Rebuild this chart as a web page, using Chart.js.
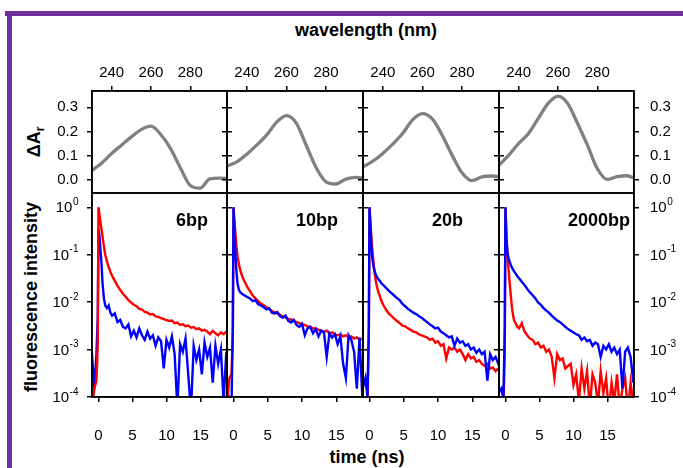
<!DOCTYPE html>
<html><head><meta charset="utf-8">
<script src="https://cdn.jsdelivr.net/npm/chart.js@4.4.1/dist/chart.umd.min.js"></script>
<style>
html,body{margin:0;padding:0;background:#fff;width:683px;height:468px;overflow:hidden;position:relative;font-family:"Liberation Sans",Arial,sans-serif;}
canvas{position:absolute;}
.lbl{position:absolute;font-weight:bold;font-size:18px;color:#000;white-space:nowrap;line-height:1;}
.ctr{transform:translate(-50%,-50%);}
.rot{transform:translate(-50%,-50%) rotate(-90deg);}
.lbl sub{font-size:12px;vertical-align:-4px;line-height:0;}
#frameTop{position:absolute;left:5px;top:11px;width:678px;height:5px;background:#7030a0;}
#frameLeft{position:absolute;left:7px;top:11px;width:5px;height:457px;background:#7030a0;}
</style></head><body>
<div id="frameTop"></div><div id="frameLeft"></div>
<div class="lbl ctr" style="left:366px;top:30px;">wavelength (nm)</div>
<div class="lbl ctr" style="left:367px;top:457px;">time (ns)</div>
<div class="lbl rot" style="left:31px;top:297px;">fluorescence intensity</div>
<div class="lbl rot" style="left:34px;top:142px;">ΔA<sub>r</sub></div>
<script>
// ---------- data ----------
const wavelength = [230,235,240,245,250,255,260,265,270,275,280,285,290,295,300];
const spec6bp    = [0.040,0.071,0.110,0.144,0.178,0.208,0.222,0.188,0.130,0.050,-0.022,-0.033,0.005,0.008,0.007];
const spec10bp   = [0.058,0.075,0.107,0.144,0.185,0.238,0.266,0.235,0.144,0.052,-0.007,-0.016,0.004,0.011,0.008];
const spec20b    = [0.055,0.078,0.110,0.148,0.192,0.248,0.274,0.252,0.185,0.103,0.030,-0.002,0.013,0.017,0.012];
const spec2000bp = [0.062,0.103,0.151,0.192,0.254,0.316,0.346,0.315,0.233,0.144,0.048,0.003,0.014,0.018,0.004];

const time = [-1,-0.6,-0.3,-0.1,0,0.15,0.3,0.45,0.6,0.8,1.0,1.25,1.5,1.75,2.0,
  2.4,2.8,3.2,3.6,4.0,4.4,4.8,5.2,5.6,6.0,6.4,6.8,7.2,7.6,8.0,8.4,8.8,9.2,9.6,10.0,
  10.4,10.8,11.2,11.6,12.0,12.4,12.8,13.2,13.6,14.0,14.4,14.8,15.2,15.6,16.0,16.4,16.8,
  17.2,17.6,18.0,18.4,18.8,19.0];

const red6bp = [5e-5,1.5e-4,2.2e-4,1.2e-3,1.0,0.70,0.48,0.34,0.24,0.15,
  0.10,0.072,0.055,0.044,0.036,0.028,0.022,0.018,0.015,0.013,
  0.011,0.0098,0.0088,0.0082,0.0072,0.0070,0.0062,0.0060,0.0055,0.0056,
  0.0050,0.0049,0.0046,0.0044,0.0042,0.0040,0.0041,0.0036,0.0037,0.0033,
  0.0034,0.0031,0.0032,0.0029,0.0030,0.0027,0.0028,0.0025,0.0026,0.0024,
  0.0021,0.0025,0.0022,0.0020,0.0023,0.0021,0.0024,0.0022];
const blue6bp = [1.0e-3,1.5e-4,8e-4,5e-3,0.35,0.25,0.12,0.065,0.025,0.012,
  0.0085,0.0075,0.0085,0.0060,0.0052,0.0058,0.0038,0.0042,0.0030,0.0028,
  0.0034,0.0019,0.0025,0.0018,0.0028,0.0020,0.0016,0.0024,0.0017,0.0020,
  0.0012,0.0018,0.0015,0.0004,0.0016,0.0011,0.0019,0.0008,0.00006,0.0013,
  0.0009,0.0017,0.0003,0.00005,0.0012,0.0006,0.0010,0.0003,0.0014,0.0007,
  0.0011,0.0002,0.0012,0.0005,0.0010,0.00008,0.0009,0.0002];
const red10bp = [6e-5,2.5e-4,3e-4,2e-3,1.0,0.5,0.26,0.14,0.09,0.062,
  0.046,0.036,0.029,0.025,0.021,0.017,0.0138,0.0120,0.0105,0.0094,
  0.0086,0.0078,0.0072,0.0065,0.0062,0.0057,0.0054,0.0050,0.0048,0.0044,
  0.0043,0.0040,0.0038,0.0036,0.0034,0.0033,0.0031,0.0030,0.0028,0.0028,
  0.0026,0.0025,0.0024,0.0025,0.0022,0.0023,0.0021,0.0020,0.0021,0.0019,
  0.0020,0.0018,0.0019,0.0017,0.0018,0.0016,0.0017,0.0016];
const blue10bp = [5e-5,9e-5,6e-5,3e-3,1.0,0.30,0.09,0.040,0.024,0.018,
  0.016,0.0150,0.0142,0.0135,0.0128,0.0120,0.0105,0.0110,0.0090,0.0085,
  0.0078,0.0070,0.0074,0.0060,0.0058,0.0062,0.0050,0.0047,0.0052,0.0040,
  0.0037,0.0042,0.0033,0.0030,0.0035,0.0020,0.0028,0.0030,0.0022,0.0027,
  0.0019,0.0025,0.0023,0.0007,0.0022,0.0018,0.0021,0.0013,0.0019,0.0005,
  0.00025,0.0020,0.0016,0.0009,0.00015,0.0018,0.0001,0.0010];
const red20b = [5e-5,5e-5,6e-5,2e-3,1.0,0.45,0.20,0.11,0.065,0.036,
  0.024,0.017,0.0135,0.0105,0.0088,0.0070,0.0058,0.0051,0.0045,0.0040,
  0.0036,0.0032,0.0031,0.0028,0.0026,0.0024,0.0023,0.0021,0.0020,0.0019,
  0.0018,0.0016,0.0017,0.0014,0.0015,0.0012,0.0013,0.00065,0.0011,0.0010,
  0.0011,0.0009,0.0010,0.0008,0.0006,0.0008,0.00065,0.0007,0.00055,0.0006,
  0.0005,0.00045,0.0005,0.0004,0.00042,0.00035,0.0004,0.00032];
const blue20b = [1.5e-4,2.5e-4,1.0e-4,3e-3,1.0,0.35,0.13,0.075,0.055,0.042,
  0.036,0.031,0.028,0.025,0.023,0.020,0.0175,0.0155,0.0138,0.0122,
  0.0110,0.0092,0.0082,0.0072,0.0066,0.0060,0.0056,0.0051,0.0047,0.0042,
  0.0038,0.0034,0.0031,0.0028,0.0029,0.0024,0.0022,0.0020,0.0018,0.0019,
  0.0012,0.0017,0.0014,0.0015,0.0012,0.0013,0.0010,0.0011,0.00085,0.0010,
  0.0008,0.0009,0.00022,0.0008,0.0006,0.0007,0.0005,0.0006];
const red2000bp = [5e-5,5e-5,5e-5,1e-3,1.0,0.25,0.10,0.050,0.028,0.013,
  0.0068,0.0042,0.0036,0.0030,0.0028,0.0036,0.0024,0.0020,0.0017,0.0016,
  0.0013,0.0014,0.0011,0.0012,0.0009,0.0010,0.0007,0.00025,0.0008,0.0006,
  0.00065,0.0004,0.00045,0.0005,0.00018,0.0003,0.00008,0.0004,0.00015,0.00035,
  0.00006,0.0003,0.0002,0.00007,0.00035,0.00012,0.00025,0.00005,0.0002,0.00008,
  0.0003,0.00006,0.00015,0.00025,0.00005,0.0002,0.00007,0.00012];
const blue2000bp = [1.2e-4,1.5e-4,9e-5,3e-3,1.0,0.20,0.11,0.085,0.072,0.060,
  0.052,0.045,0.040,0.035,0.032,0.027,0.023,0.019,0.016,0.014,
  0.012,0.0098,0.0088,0.0075,0.0066,0.0060,0.0052,0.0046,0.0041,0.0038,
  0.0034,0.0030,0.0027,0.0025,0.0023,0.0021,0.0020,0.0016,0.0018,0.0015,
  0.0016,0.0012,0.0014,0.0013,0.0007,0.0012,0.0010,0.0013,0.0009,0.0011,
  0.0008,0.0010,0.00015,0.0009,0.0011,0.0007,0.0002,0.0008];

const panelLabels = ['6bp','10bp','20b','2000bp'];
const wlTicks = [240,260,280];
const wlTickLabels = ['240','260','280'];
const absTicks = [0.0,0.1,0.2,0.3];
const absTickLabels = ['0.0','0.1','0.2','0.3'];
const timeTicks = [0,5,10,15];
const timeTickLabels = ['0','5','10','15'];
const logTicks = [1,0.1,0.01,0.001,0.0001];
const logTickBase = '10';
const logTickExps = ['0','-1','-2','-3','-4'];

// ---------- layout ----------
const cols = [92,227,363,499,634];
const rowsY = [[91,193],[193,397]];
const M = {side:70, vert:50};
const FONT = '"Liberation Sans", Arial, sans-serif';
const tickFont = {family:FONT,size:15};
const gridCfg = {display:true,drawOnChartArea:false,drawTicks:true,tickLength:5,color:'#000',lineWidth:1.5};
const borderCfg = {display:true,color:'#000',width:1.5};

const framePlugin = {id:'frame', afterDatasetsDraw(chart){
  const a = chart.chartArea, ctx = chart.ctx;
  ctx.save(); ctx.strokeStyle='#000'; ctx.lineWidth=1.6;
  ctx.strokeRect(a.left,a.top,a.right-a.left,a.bottom-a.top); ctx.restore();
}};

// power-of-ten tick labels (base + raised exponent) placed at the scale's tick pixels
const supPlugin = {id:'sup', afterDraw(chart, args, opts){
  if(!opts || !opts.axes) return;
  const ctx = chart.ctx, a = chart.chartArea;
  opts.axes.forEach(id=>{
    const s = chart.scales[id];
    if(!s) return;
    const left = s.options.position==='left';
    s.ticks.forEach((t,i)=>{
      const y = s.getPixelForValue(t.value);
      ctx.save();
      ctx.fillStyle='#000'; ctx.textBaseline='middle'; ctx.textAlign='left';
      ctx.font='15px '+FONT; const wb = ctx.measureText(logTickBase).width;
      ctx.font='10px '+FONT; const we = ctx.measureText(logTickExps[i]).width;
      const x0 = left ? a.left - 5 - 9 - wb - we : a.right + 5 + 11;
      ctx.font='15px '+FONT; ctx.fillText(logTickBase, x0, y+1);
      ctx.font='10px '+FONT; ctx.fillText(logTickExps[i], x0+wb+0.5, y-5);
      ctx.restore();
    });
  });
}};

function yAxis(pos,type,min,max,vals,labels,show){
  return {type,position:pos,min,max,
    afterFit:s=>{s.width=M.side;},
    afterBuildTicks:s=>{s.ticks=vals.map(v=>({value:v}));},
    ticks:{display:show,color:'#000',font:tickFont,padding:pos==='left'?9:11,autoSkip:false,
      callback:(v,i)=>labels ? labels[i] : ''},
    grid:gridCfg,border:borderCfg};
}
function xAxis(pos,min,max,vals,labels,pad){
  return {type:'linear',position:pos,min,max,
    afterFit:s=>{s.height=M.vert;},
    afterBuildTicks:s=>{s.ticks=vals.map(v=>({value:v}));},
    ticks:{display:true,color:'#000',font:tickFont,padding:pad,autoSkip:false,maxRotation:0,minRotation:0,
      callback:(v,i)=>labels[i]},
    grid:gridCfg,border:borderCfg};
}
function toXY(xs,ys){return xs.map((x,i)=>({x,y:ys[i]}));}

function panel(col,row,datasets,scales,supAxes){
  const x0=cols[col],x1=cols[col+1],y0=rowsY[row][0],y1=rowsY[row][1];
  const W=x1-x0+2*M.side,H=y1-y0+2*M.vert;
  const cv=document.createElement('canvas');
  cv.width=W;cv.height=H;
  cv.style.left=(x0-M.side)+'px';cv.style.top=(y0-M.vert)+'px';
  cv.style.width=W+'px';cv.style.height=H+'px';
  document.body.appendChild(cv);
  const padding = row===0 ? {left:0,right:0,top:0,bottom:M.vert} : {left:0,right:0,top:M.vert,bottom:0};
  new Chart(cv,{type:'line',data:{datasets},
    options:{responsive:false,animation:false,events:[],
      layout:{padding},
      plugins:{legend:{display:false},tooltip:{enabled:false},sup:{axes:supAxes||[]}},
      scales},
    plugins:[framePlugin,supPlugin]});
}

const specs=[spec6bp,spec10bp,spec20b,spec2000bp];
const reds=[red6bp,red10bp,red20b,red2000bp];
const blues=[blue6bp,blue10bp,blue20b,blue2000bp];

for(let c=0;c<4;c++){
  panel(c,0,[{data:toXY(wavelength,specs[c]),borderColor:'#808080',borderWidth:3.3,pointRadius:0,
      cubicInterpolationMode:'monotone',xAxisID:'x',yAxisID:'y'}],
    {x:xAxis('top',230,298.7,wlTicks,wlTickLabels,4),
     y:yAxis('left','linear',-0.053,0.367,absTicks,absTickLabels,c===0),
     y2:yAxis('right','linear',-0.053,0.367,absTicks,absTickLabels,c===3)});
  const red={data:toXY(time,reds[c]),borderColor:'#ff0000',borderWidth:2.4,pointRadius:0,tension:0,xAxisID:'x',yAxisID:'y'};
  const blue={data:toXY(time,blues[c]),borderColor:'#0000ff',borderWidth:2.4,pointRadius:0,tension:0,xAxisID:'x',yAxisID:'y'};
  const sup=[]; if(c===0) sup.push('y'); if(c===3) sup.push('y2');
  panel(c,1,c===0?[red,blue]:[blue,red],
    {x:xAxis('bottom',-0.95,18.9,timeTicks,timeTickLabels,25),
     y:yAxis('left','logarithmic',1e-4,2,logTicks,null,false),
     y2:yAxis('right','logarithmic',1e-4,2,logTicks,null,false)}, sup);
}

const labelLeft=[176,296,432,568];
panelLabels.forEach((t,i)=>{
  const d=document.createElement('div');
  d.className='lbl';d.textContent=t;
  d.style.left=labelLeft[i]+'px';d.style.top='211px';
  document.body.appendChild(d);
});
</script>
</body></html>
